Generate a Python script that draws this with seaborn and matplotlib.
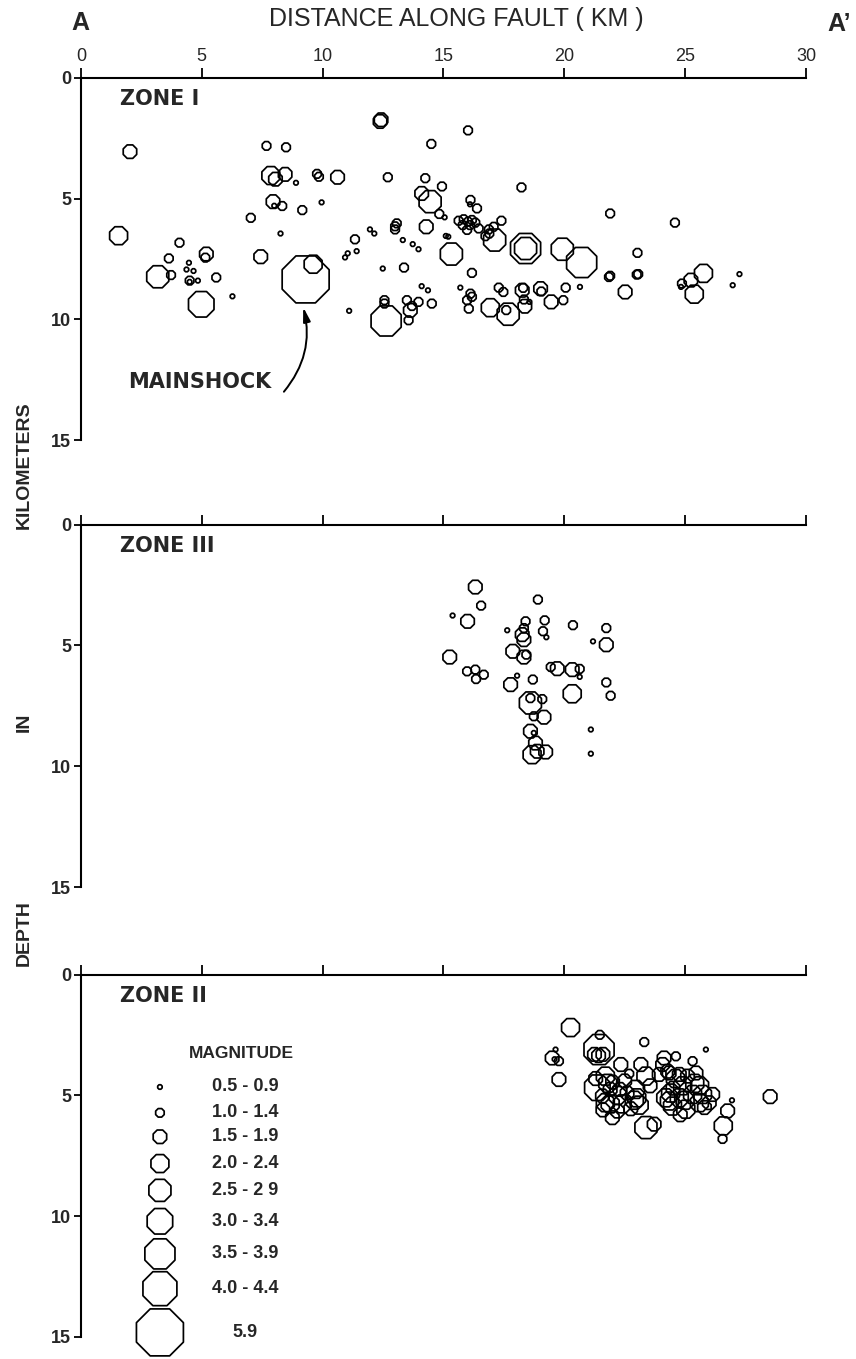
import matplotlib
matplotlib.use("Agg")
import matplotlib.pyplot as plt
import pandas as pd
import seaborn as sns

# magnitude classes (index -> legend label)
mag_labels = ["0.5 - 0.9", "1.0 - 1.4", "1.5 - 1.9", "2.0 - 2.4", "2.5 - 2 9",
              "3.0 - 3.4", "3.5 - 3.9", "4.0 - 4.4", "5.9"]

# ZONE I : distance along fault (km), depth (km), magnitude class
zone1_dist = [2.03, 7.68, 8.49, 12.38, 12.42, 14.5, 16.02, 7.86, 8.05, 8.45, 8.9,
              9.77, 9.85, 10.62, 12.7, 14.25, 14.94, 14.1, 14.45, 14.83, 15.05,
              7.95, 8.0, 8.33, 9.16, 9.96, 7.03, 8.26, 1.56, 4.08, 3.64, 5.19, 5.15,
              4.47, 4.37, 4.66, 3.18, 3.73, 4.5, 4.5, 4.84, 5.6, 4.98, 6.27, 7.44,
              9.3, 9.61, 11.1, 11.96, 12.14, 13.07, 13.0, 13.0, 11.34, 11.04, 10.93,
              11.41, 13.32, 13.73, 13.97, 14.29, 12.49, 13.37, 15.2, 15.1, 14.1,
              14.36, 14.52, 12.56, 12.56, 12.63, 13.49, 13.63, 13.56, 13.97, 13.7,
              15.33, 16.18, 15.7, 15.98, 16.12, 16.18, 16.05, 17.29, 17.48, 16.94,
              17.68, 17.6, 18.26, 18.3, 18.33, 18.56, 19.02, 19.05, 18.37, 19.46,
              19.96, 20.06, 20.65, 18.23, 16.12, 16.1, 16.39, 15.63, 15.84, 16.02,
              16.18, 16.32, 15.98, 16.46, 15.8, 16.1, 16.88, 17.08, 17.4, 16.74,
              16.9, 17.12, 18.4, 18.4, 19.92, 20.72, 21.9, 24.58, 23.03, 21.9,
              21.85, 23.06, 23.0, 22.52, 25.76, 25.24, 24.87, 24.83, 25.38, 27.25,
              26.97]
zone1_depth = [3.06, 2.82, 2.88, 1.81, 1.74, 2.74, 2.18, 4.05, 4.2, 4.0, 4.35,
               3.98, 4.1, 4.12, 4.12, 4.16, 4.5, 4.79, 5.13, 5.64, 5.78,
               5.13, 5.3, 5.31, 5.48, 5.16, 5.8, 6.45, 6.54, 6.83, 7.48, 7.3, 7.45,
               7.66, 7.94, 8.0, 8.24, 8.17, 8.4, 8.45, 8.4, 8.27, 9.38, 9.05, 7.41,
               8.35, 7.72, 9.65, 6.28, 6.45, 6.03, 6.28, 6.15, 6.69, 7.27, 7.44,
               7.18, 6.72, 6.89, 7.1, 6.17, 7.9, 7.86, 6.58, 6.55, 8.63,
               8.8, 9.35, 9.21, 9.35, 10.07, 9.21, 9.63, 10.04, 9.28, 9.45,
               7.3, 8.08, 8.69, 9.21, 8.94, 9.07, 9.56, 8.69, 8.87, 9.52,
               9.79, 9.62, 8.8, 8.7, 9.18, 9.28, 8.73, 8.85, 9.46, 9.28,
               9.21, 8.69, 8.66, 4.54, 5.06, 5.24, 5.41, 5.92, 5.86, 5.96,
               5.89, 6.0, 6.3, 6.24, 6.1, 6.1, 6.28, 6.17, 5.92, 6.56,
               6.45, 6.72, 7.07, 7.07, 7.1, 7.65, 5.62, 6.0, 7.25, 8.2,
               8.25, 8.13, 8.15, 8.87, 8.1, 8.38, 8.52, 8.66, 8.96, 8.13,
               8.59]
zone1_mag = [2, 1, 1, 2, 2, 1, 1, 3, 2, 2, 0,
             1, 1, 2, 1, 1, 1, 2, 4, 1, 0,
             2, 0, 1, 1, 0, 1, 0, 3, 1, 1, 2, 1,
             0, 0, 0, 4, 1, 1, 0, 0, 1, 5, 0, 2,
             8, 3, 0, 0, 0, 1, 1, 1, 1, 0, 0,
             0, 0, 0, 0, 2, 0, 1, 0, 0, 0,
             0, 1, 1, 1, 6, 1, 2, 1, 1, 1,
             4, 1, 0, 1, 1, 1, 1, 1, 1, 3,
             4, 1, 2, 1, 1, 0, 2, 1, 2, 2,
             1, 1, 0, 1, 1, 0, 1, 1, 1, 1,
             1, 1, 1, 1, 1, 1, 1, 1, 1, 1,
             1, 4, 6, 4, 4, 6, 1, 1, 1, 1,
             1, 1, 1, 2, 3, 2, 1, 0, 3, 0,
             0]

# ZONE III
zone3_dist = [16.32, 16.56, 18.91, 15.38, 16.0, 18.4, 18.33, 18.26, 18.33, 19.19,
              19.12, 19.26, 17.64, 20.36, 21.74, 21.19, 21.74, 17.87, 18.33, 18.43,
              15.26, 19.44, 19.71, 20.33, 20.64, 20.64, 15.98, 16.32, 16.35, 16.67,
              17.78, 18.05, 18.7, 20.33, 21.74, 21.92, 18.6, 18.6, 19.09, 18.74,
              19.16, 18.6, 18.74, 18.81, 18.88, 18.67, 19.23, 21.1, 21.1]
zone3_depth = [2.58, 3.35, 3.1, 3.76, 4.0, 4.0, 4.28, 4.55, 4.76, 3.96,
               4.41, 4.66, 4.37, 4.16, 4.28, 4.83, 4.97, 5.24, 5.48, 5.38,
               5.48, 5.89, 5.96, 6.0, 5.97, 6.3, 6.07, 6.0, 6.39, 6.21,
               6.62, 6.25, 6.41, 7.0, 6.53, 7.08, 7.38, 7.18, 7.22, 7.93,
               7.97, 8.55, 8.62, 9.04, 9.38, 9.52, 9.41, 8.48, 9.48]
zone3_mag = [2, 1, 1, 0, 2, 1, 1, 2, 2, 1,
             1, 0, 0, 1, 1, 0, 2, 2, 2, 1,
             2, 1, 2, 2, 1, 0, 1, 1, 1, 1,
             2, 0, 1, 3, 1, 1, 4, 1, 1, 1,
             2, 2, 0, 2, 2, 3, 2, 0, 0]

# ZONE II
zone2_dist = [20.26, 21.47, 21.44, 21.25, 21.6, 21.42, 23.31, 25.86, 19.64, 19.5,
              19.78, 19.6, 19.78, 21.37, 22.34, 22.69, 23.17, 23.38, 21.9, 22.3,
              21.9, 22.4, 23.1, 22.75, 21.58, 21.99, 23.38, 23.72, 24.07, 24.28,
              24.35, 24.13, 24.62, 25.31, 23.93, 24.34, 24.76, 25.45, 24.2, 24.76,
              25.31, 25.72, 24.48, 25.03, 25.59, 26.14, 24.9, 25.4, 24.5, 25.8,
              24.8, 26.94, 26.76, 26.58, 26.55, 28.52, 21.7, 22.0, 22.6, 22.95,
              21.6, 22.9, 23.55, 21.8, 22.2, 22.5, 23.0, 24.6, 25.1, 25.0,
              24.4, 25.6, 26.0, 21.3, 21.7, 22.2]
zone2_depth = [2.19, 2.49, 3.1, 3.3, 3.3, 3.35, 2.79, 3.1, 3.1, 3.45,
               3.58, 3.5, 4.34, 4.68, 3.72, 4.1, 3.72, 4.2, 4.75, 4.75,
               5.35, 5.35, 5.4, 5.55, 5.02, 5.92, 6.33, 6.19, 3.72, 4.0,
               5.23, 3.45, 3.38, 3.58, 4.13, 4.07, 4.13, 4.07, 5.1, 5.1,
               4.96, 4.96, 5.44, 5.57, 5.3, 4.96, 4.6, 4.5, 4.7, 5.5,
               5.8, 5.2, 5.64, 6.26, 6.8, 5.05, 4.2, 4.45, 4.9, 4.75,
               5.6, 5.2, 4.6, 4.5, 5.0, 4.4, 5.1, 4.3, 4.2, 5.2,
               4.9, 4.6, 5.3, 4.3, 5.3, 5.65]
zone2_mag = [3, 1, 6, 2, 2, 2, 1, 0, 0, 2,
             1, 0, 2, 5, 2, 1, 2, 3, 2, 2,
             3, 3, 3, 2, 2, 2, 4, 2, 2, 2,
             3, 2, 1, 1, 2, 2, 2, 2, 3, 3,
             3, 3, 3, 3, 3, 2, 3, 3, 2, 2,
             2, 0, 2, 3, 1, 2, 3, 2, 2, 3,
             2, 3, 2, 3, 3, 2, 3, 3, 2, 3,
             3, 3, 2, 2, 3, 2]

# marker area (points^2) per magnitude class
mag_sizes = {0: 12, 1: 44, 2: 110, 3: 195, 4: 295, 5: 395, 6: 550, 7: 700, 8: 1340}

sns.set_theme(style="ticks")
plt.rcParams["font.family"] = ["Liberation Sans", "DejaVu Sans"]
bold_font = ["DejaVu Sans", "Liberation Sans"]

fig = plt.figure(figsize=(8.56, 13.59), dpi=100)
bottoms = [0.6762, 0.3473, 0.0162]
zones = [
    ("ZONE I", zone1_dist, zone1_depth, zone1_mag),
    ("ZONE III", zone3_dist, zone3_depth, zone3_mag),
    ("ZONE II", zone2_dist, zone2_depth, zone2_mag),
]

axes = []
for i, (name, dist, depth, mag) in enumerate(zones):
    ax = fig.add_axes([0.0945, bottoms[i], 0.847, 0.2666])
    df = pd.DataFrame({"dist": dist, "depth": depth, "mag": mag})
    sns.scatterplot(data=df, x="dist", y="depth", size="mag", sizes=mag_sizes,
                    marker="8", facecolor="none", edgecolor="black",
                    linewidth=1.25, legend=False, ax=ax)
    ax.set_xlim(0, 30)
    ax.set_ylim(15, 0)
    ax.set_xlabel("")
    ax.set_ylabel("")
    ax.set_xticks(range(0, 31, 5))
    ax.set_yticks([0, 5, 10, 15])
    for side in ["right", "bottom"]:
        ax.spines[side].set_visible(False)
    for side in ["top", "left"]:
        ax.spines[side].set_linewidth(1.5)
        ax.spines[side].set_color("black")
    ax.xaxis.set_ticks_position("top")
    ax.tick_params(axis="x", direction="out", length=7, width=1.3, color="black",
                   top=True, bottom=False, labeltop=(i == 0), labelbottom=False,
                   labelsize=13, pad=2)
    ax.tick_params(axis="y", direction="out", length=5, width=1.3, color="black",
                   labelsize=13, pad=2)
    for lab in ax.get_yticklabels():
        lab.set_fontweight("bold")
    ax.text(0.054, 0.94, name, transform=ax.transAxes, ha="left", va="center",
            fontsize=15, fontweight="bold", family=bold_font)
    ax.patch.set_alpha(0)
    axes.append(ax)

# mainshock annotation
ax1 = axes[0]
ax1.text(1.95, 12.6, "MAINSHOCK", ha="left", va="center", fontsize=15,
         fontweight="bold", family=bold_font)
ax1.annotate("", xy=(9.2, 9.5), xytext=(8.4, 13.0),
             arrowprops=dict(arrowstyle="-|>,head_length=0.7,head_width=0.18",
                             connectionstyle="arc3,rad=0.25", color="black",
                             lw=1.4, shrinkA=0, shrinkB=0))

# magnitude legend in the ZONE II panel
ax3 = axes[2]
key_rows = [4.65, 5.72, 6.71, 7.82, 8.93, 10.21, 11.56, 13.0, 14.81]
ax3.text(6.66, 3.25, "MAGNITUDE", ha="center", va="center", fontsize=12.5,
         fontweight="bold")
for k, label in enumerate(mag_labels):
    ax3.scatter([3.27], [key_rows[k]], s=mag_sizes[k], marker="8",
                facecolor="none", edgecolor="black", linewidth=1.25, clip_on=False)
    ax3.text(6.8, key_rows[k], label, ha="center", va="center", fontsize=13,
             fontweight="bold")

# titles and axis labels
fig.text(0.533, 0.986, "DISTANCE ALONG FAULT ( KM )", ha="center", va="center",
         fontsize=18)
fig.text(0.0935, 0.983, "A", ha="center", va="center", fontsize=18,
         fontweight="bold")
fig.text(0.967, 0.982, "A\u2019", ha="left", va="center", fontsize=18,
         fontweight="bold")
for label, ypos in [("KILOMETERS", 0.658), ("IN", 0.4687), ("DEPTH", 0.3135)]:
    fig.text(0.028, ypos, label, rotation=90, ha="center", va="center",
             fontsize=14, fontweight="bold")

fig.savefig("out.png", dpi=100)
